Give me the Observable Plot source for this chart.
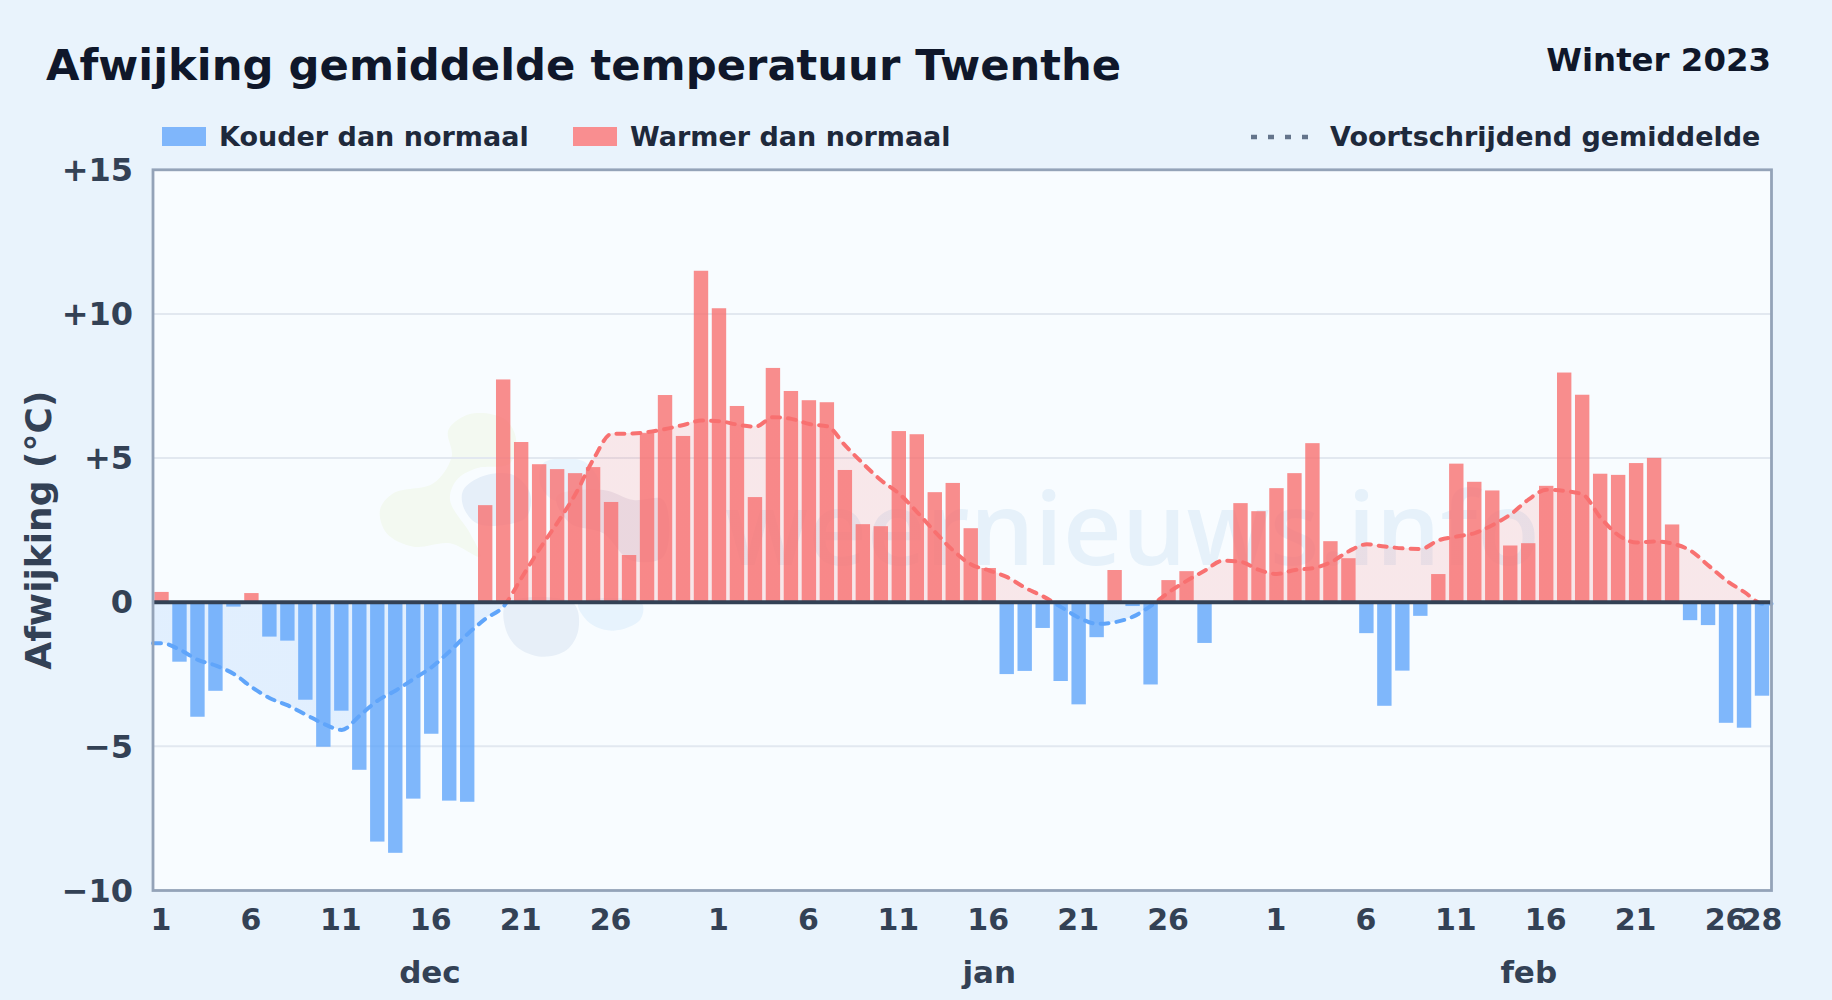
<!DOCTYPE html>
<html lang="nl">
<head>
<meta charset="utf-8">
<script src="https://cdn.jsdelivr.net/npm/d3@7"></script>
<script src="https://cdn.jsdelivr.net/npm/@observablehq/plot@0.6"></script>
<style>
  html,body{margin:0;padding:0;background:#e9f3fc;width:1832px;height:1000px;overflow:hidden;font-family:"DejaVu Sans",sans-serif;font-weight:700}
  #header{position:relative;height:140px;width:1832px}
  #header>*{position:absolute;white-space:nowrap}
  #title{left:46px;top:39px;font-size:43.3px;line-height:52px;color:#0f172a}
  #season{right:61px;top:37px;font-size:32.4px;line-height:46px;color:#0f172a}
  .sw{top:127px;height:19px;width:44px}
  .lg{top:120px;font-size:27px;line-height:34px;color:#1e293b}
  #dots{left:1251px;top:134px}
  #chart svg{display:block}
</style>
</head>
<body>
<div id="header">
  <div id="title">Afwijking gemiddelde temperatuur Twenthe</div>
  <div id="season">Winter 2023</div>
  <div class="sw" style="left:162px;background:#7fb6fb"></div>
  <div class="lg" style="left:219px">Kouder dan normaal</div>
  <div class="sw" style="left:573px;background:#f98e90"></div>
  <div class="lg" style="left:630px">Warmer dan normaal</div>
  <svg id="dots" width="60" height="6"><line x1="0" x2="60" y1="3" y2="3" stroke="#64748b" stroke-width="4.5" stroke-dasharray="6 11"/></svg>
  <div class="lg" style="left:1330px">Voortschrijdend gemiddelde</div>
</div>
<div id="chart"></div>
<script>
// Deviation per day, 1 Dec – 28 Feb (°C)
const decValues = [0.34,-2.08,-3.99,-3.09,-0.17,0.30,-1.21,-1.35,-3.40,-5.03,-3.78,-5.83,-8.32,-8.71,-6.83,-4.58,-6.90,-6.94,3.35,7.71,5.54,4.77,4.60,4.46,4.67,3.46,1.62,5.85,7.17,5.75,11.48];
const janValues = [10.18,6.79,3.63,8.11,7.31,6.99,6.92,4.57,2.69,2.62,5.92,5.81,3.80,4.12,2.55,1.17,-2.51,-2.40,-0.91,-2.75,-3.56,-1.23,1.10,-0.15,-2.87,0.75,1.06,-1.43,0,3.42,3.14];
const febValues = [3.94,4.46,5.50,2.10,1.51,-1.09,-3.61,-2.39,-0.49,0.96,4.79,4.16,3.86,1.95,2.03,4.02,7.95,7.18,4.44,4.40,4.81,4.99,2.68,-0.64,-0.81,-4.20,-4.37,-3.26];
// Moving average per day
const decAverage = [-1.42,-1.65,-2.0,-2.2,-2.49,-2.95,-3.33,-3.58,-3.9,-4.22,-4.43,-3.93,-3.41,-3.06,-2.66,-2.25,-1.7,-1.1,-0.57,-0.14,0.85,1.85,2.77,3.76,4.97,5.84,5.85,5.9,6.01,6.15,6.30];
const janAverage = [6.28,6.16,6.09,6.42,6.36,6.18,6.1,5.43,4.80,4.22,3.76,3.12,2.43,1.79,1.31,1.10,0.87,0.50,0.20,-0.17,-0.54,-0.75,-0.69,-0.50,-0.12,0.35,0.75,1.10,1.44,1.40,1.12];
const febAverage = [0.98,1.12,1.18,1.39,1.77,2.01,1.93,1.87,1.85,2.15,2.28,2.4,2.68,3.05,3.57,3.9,3.86,3.74,2.93,2.32,2.07,2.11,2.03,1.79,1.27,0.75,0.35,-0.05];
const dayTicks = [1,6,11,16,21,26];
const monthNames = ["dec","jan","feb"];
const monthTicks = [15.4,46.5,76.5];
const yTicks = [-10,-5,0,5,10,15];
const gridValues = [-5,5,10];

const values = [...decValues,...janValues,...febValues];
const average = [...decAverage,...janAverage,...febAverage];
const days = values.map((v,i)=>({i,v}));
const avgSeries = [{x:0,y:average[0]},...average.map((y,i)=>({x:i+0.5,y})),{x:values.length,y:average[average.length-1]}];

// x ticks: day-of-month labels
const xLabels = new Map();
[0,31,62].forEach(s=>dayTicks.forEach(d=>xLabels.set(s+d-1+0.5,String(d))));
xLabels.set(89.5,"28");

const warm="#f87171", cold="#60a5fa";
const fontAll="'DejaVu Sans'";

function defsMark(index,{y}){
  const off = (y(0)-y(15))/(y(-10)-y(15));
  const g = d3.create("svg:defs");
  const add=(id,op)=>{
    const lg=g.append("linearGradient").attr("id",id).attr("gradientUnits","userSpaceOnUse")
      .attr("x1",0).attr("x2",0).attr("y1",y(15)).attr("y2",y(-10));
    [[0,warm],[off,warm],[off,cold],[1,cold]].forEach(([o,c])=>lg.append("stop").attr("offset",o).attr("stop-color",c).attr("stop-opacity",op));
  };
  add("lineGrad",1); add("areaGrad",0.15);
  return g.node();
}
function logoMark(){
  // faint decorative logo behind the bars
  const g=d3.create("svg:g");
  const blob=(pts,c)=>g.append("path")
    .attr("d",d3.line().x(p=>370+p[0]/3).y(p=>260+p[1]/3).curve(d3.curveCatmullRomClosed)(pts)).attr("fill",c);
  blob([[235,90],[300,42],[400,55],[437,110],[420,190],[320,205],[260,240],[240,300],[300,400],[330,470],[240,430],[130,440],[50,400],[30,330],[70,280],[190,250],[245,170]],"#f3f9f1");
  blob([[520,190],[590,175],[650,190],[690,260],[640,300],[550,300],[510,250]],"#e9f4fd");
  blob([[280,270],[340,228],[430,225],[480,280],[470,350],[400,375],[320,370],[280,320]],"#e6eff9");
  blob([[560,290],[700,270],[790,300],[880,300],[880,470],[780,480],[700,400],[600,370]],"#e8e9f2");
  blob([[410,610],[610,610],[625,690],[590,750],[515,770],[440,740],[405,680]],"#e7eff8");
  blob([[625,610],[815,610],[810,660],[730,692],[660,670]],"#e7f3fd");
  return g.node();
}

const plot = Plot.plot({
  width:1832, height:860,
  marginLeft:152.5, marginRight:61, marginTop:29.3, marginBottom:110,
  style:{background:"transparent",fontFamily:fontAll},
  x:{type:"linear",domain:[0,values.length],axis:null},
  y:{type:"linear",domain:[-10,15],axis:null},
  marks:[
    Plot.frame({fill:"#f8fcff",stroke:"none"}),
    defsMark,
    logoMark,
    Plot.text(["weernieuws.info"],{frameAnchor:"top-left",dx:572,dy:323,textAnchor:"start",fontFamily:"'Open Sans'",fontSize:102,fontWeight:600,fill:"#1e6fbf",fillOpacity:0.08}),
    Plot.ruleY(gridValues,{stroke:"#e2e8f0",strokeWidth:2}),
    Plot.areaY(avgSeries,{x:"x",y1:0,y2:"y",fill:"url(#areaGrad)",curve:"monotone-x"}),
    Plot.line(avgSeries,{x:"x",y:"y",stroke:"url(#lineGrad)",strokeWidth:4,strokeDasharray:"8 8",strokeLinecap:"round",curve:"monotone-x"}),
    Plot.rectY(days.filter(d=>d.v<0),{x1:d=>d.i+0.1,x2:d=>d.i+0.9,y1:0,y2:"v",fill:cold,fillOpacity:0.8}),
    Plot.rectY(days.filter(d=>d.v>0),{x1:d=>d.i+0.1,x2:d=>d.i+0.9,y1:0,y2:"v",fill:warm,fillOpacity:0.8}),
    Plot.ruleY([0],{stroke:"#334155",strokeWidth:4}),
    Plot.frame({stroke:"#94a3b8",strokeWidth:2.8}),
    Plot.axisY({ticks:yTicks,tickSize:0,tickPadding:20,dy:1,fontSize:32,fontWeight:700,fill:"#334155",label:null,
      tickFormat:d=>d>0?"+"+d:d<0?"\u2212"+(-d):"0"}),
    Plot.text(["Afwijking (°C)"],{frameAnchor:"left",textAnchor:"middle",rotate:-90,dx:-114,fontSize:36,fontWeight:700,fill:"#334155"}),
    Plot.axisX({ticks:[...xLabels.keys()],tickFormat:d=>xLabels.get(d),tickSize:0,tickPadding:18,dx:-1,fontSize:30,fontWeight:700,fill:"#334155",label:null}),
    Plot.axisX({ticks:monthTicks,tickFormat:(d,i)=>monthNames[i],tickSize:0,tickPadding:70,fontSize:31,fontWeight:700,fill:"#334155",label:null})
  ]
});
document.getElementById("chart").appendChild(plot);
</script>
</body>
</html>
